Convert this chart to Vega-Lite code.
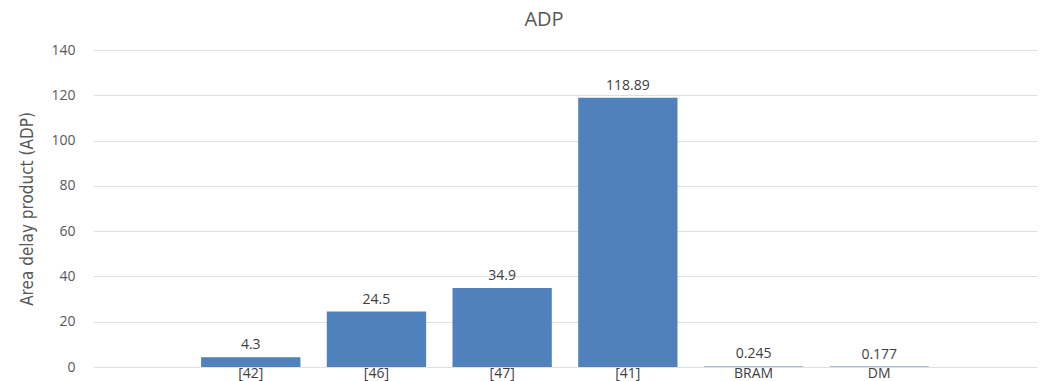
{
  "$schema": "https://vega.github.io/schema/vega-lite/v6.json",
  "autosize": {"type": "none"},
  "width": 944,
  "height": 317,
  "padding": {"left": 93, "top": 50, "right": 6, "bottom": 14},
  "background": "white",
  "title": {"text": "ADP", "fontSize": 20, "font": "Open Sans", "fontWeight": "normal", "color": "#595959", "offset": 13, "dx": -21},
  "data": {"values": [
    {"ref": "[42]", "adp": 4.3, "label": "4.3"},
    {"ref": "[46]", "adp": 24.5, "label": "24.5"},
    {"ref": "[47]", "adp": 34.9, "label": "34.9"},
    {"ref": "[41]", "adp": 118.89, "label": "118.89"},
    {"ref": "BRAM", "adp": 0.245, "label": "0.245"},
    {"ref": "DM", "adp": 0.177, "label": "0.177"}
  ]},
  "encoding": {
    "x": {"field": "ref", "type": "nominal", "sort": null,
      "scale": {"paddingInner": 0.21, "paddingOuter": 0.86},
      "axis": {"title": null, "domain": false, "ticks": false, "grid": false, "labelAngle": 0,
        "labelFont": "Open Sans", "labelFontSize": 14, "labelColor": "#404040", "labelPadding": -1}},
    "y": {"field": "adp", "type": "quantitative",
      "scale": {"domain": [0, 140]},
      "axis": {"title": "Area delay product (ADP)", "values": [0, 20, 40, 60, 80, 100, 120, 140],
        "domain": false, "ticks": false, "gridColor": "#e0e0e0", "gridWidth": 1,
        "labelFont": "Open Sans", "labelFontSize": 14, "labelColor": "#595959", "labelPadding": 18,
        "titleFont": "DejaVu Sans Condensed, Open Sans, sans-serif", "titleFontSize": 17, "titleFontWeight": "normal", "titleColor": "#595959", "titlePadding": 14}}
  },
  "layer": [
    {"mark": {"type": "bar", "color": "#4f81bd"}},
    {"mark": {"type": "text", "baseline": "bottom", "dy": -5, "font": "Open Sans", "fontSize": 14, "color": "#404040"},
      "encoding": {"text": {"field": "label"}}}
  ],
  "config": {"view": {"stroke": null}}
}
